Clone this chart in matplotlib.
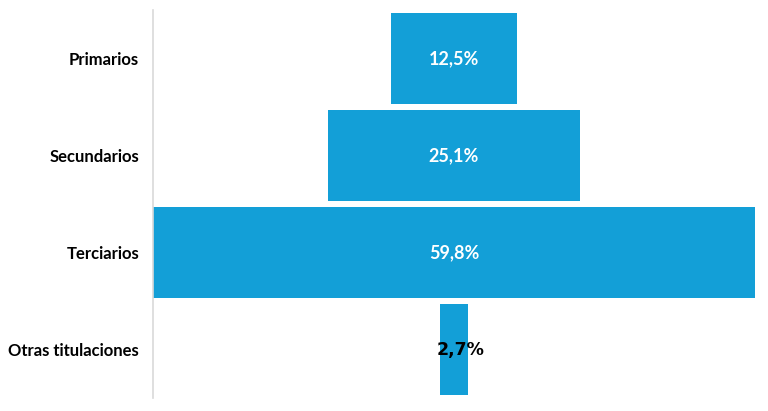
import matplotlib
matplotlib.use("Agg")
import matplotlib.pyplot as plt

categories = ["Primarios", "Secundarios", "Terciarios", "Otras titulaciones"]
values = [12.5, 25.1, 59.8, 2.7]
labels = ["12,5%", "25,1%", "59,8%", "2,7%"]

plt.rcParams['font.family'] = ['Lato', 'DejaVu Sans']

fig = plt.figure(figsize=(7.68, 4.11), dpi=100)
ax = fig.add_axes([153/768, 1 - 398/411, (755-153)/768, 388/411])

color = "#139fd7"
ypos = list(range(len(categories)))
lefts = [-v/2 for v in values]
ax.barh(ypos, values, left=lefts, height=0.94, color=color)

for i, (v, lab) in enumerate(zip(values, labels)):
    if v > 5:
        ax.text(0, i, lab, ha="center", va="center", color="white",
                fontsize=13, fontweight="bold")
    else:
        ax.text(0.7, i, lab, ha="center", va="center", color="black",
                fontsize=12.5, fontweight="bold", family="DejaVu Sans")

ax.set_yticks(ypos)
ax.set_yticklabels(categories, fontsize=12, fontweight="bold")
ax.tick_params(axis="y", length=0, pad=10)
ax.set_xticks([])
ax.set_ylim(3.5, -0.5)
half = max(values)/2
ax.set_xlim(-half, half)
for s in ["top", "right", "bottom"]:
    ax.spines[s].set_visible(False)
ax.spines["left"].set_color("#d9d9d9")
ax.spines["left"].set_linewidth(1.2)

fig.savefig("out.png", dpi=100)
